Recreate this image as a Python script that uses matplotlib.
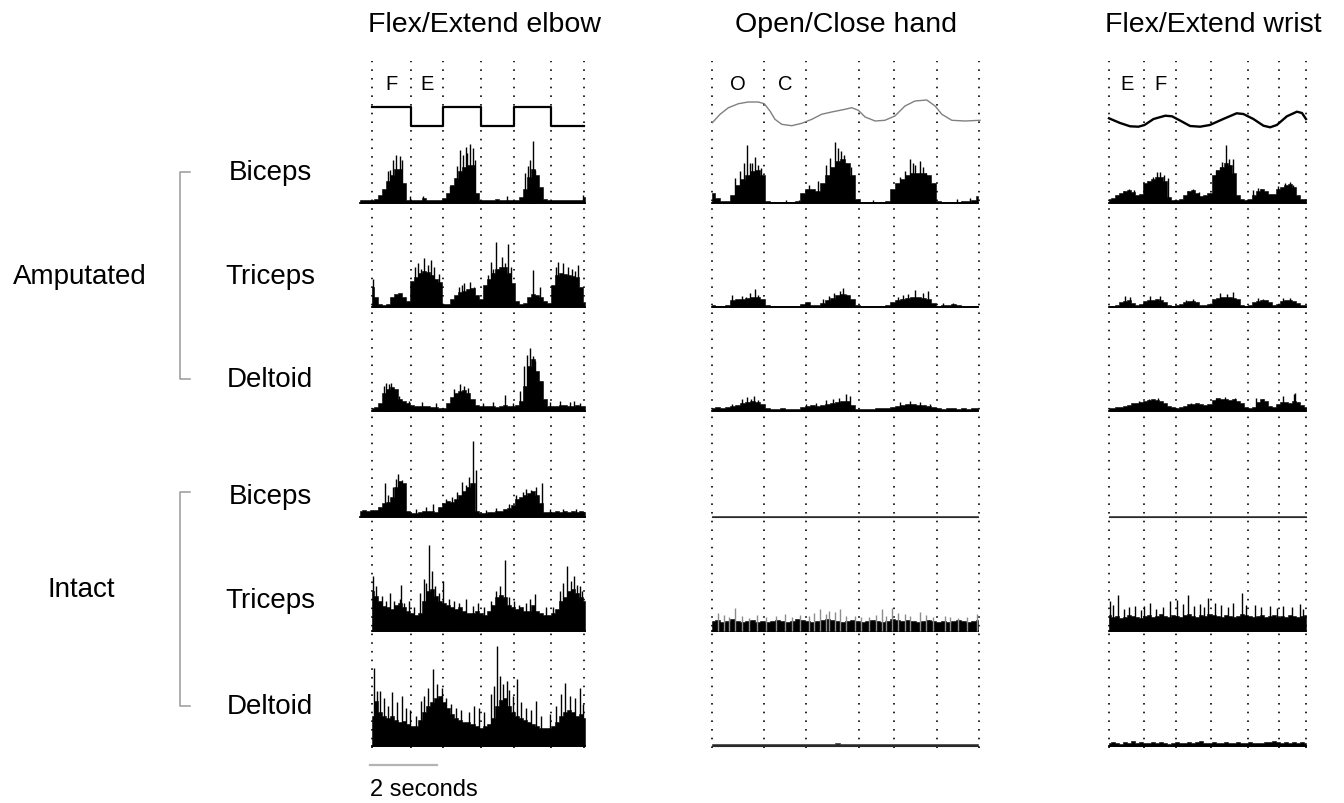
import matplotlib
matplotlib.use("Agg")
import matplotlib.pyplot as plt
import matplotlib.transforms as mtransforms
from matplotlib.lines import Line2D
import numpy as np

plt.rcParams['font.family'] = ['Liberation Sans', 'DejaVu Sans']
plt.rcParams['lines.scale_dashes'] = False

W, H = 1344, 804
PX_PER_S = 33.5          # horizontal scale: 2 s = 67 px

# ---------------- data ----------------
columns = ["Flex/Extend elbow", "Open/Close hand", "Flex/Extend wrist"]
groups = ["Amputated", "Intact"]
muscles = ["Biceps", "Triceps", "Deltoid"]

# movement phase boundaries (s) -> dotted lines
elbow_events = [0, 1.16, 2.12, 3.25, 4.24, 5.34, 6.33]
hand_events = [0, 1.55, 2.80, 4.39, 5.43, 6.72, 7.97]
wrist_events = [0, 1.05, 2.00, 3.04, 4.14, 5.07, 5.87]
phase_labels = [("F", "E"), ("O", "C"), ("E", "F")]

# control signals
elbow_state = [1, 0, 1, 0, 1, 0]
hand_t = [0.01, 0.24, 0.49, 0.79, 1.08, 1.38, 1.56, 1.73, 1.88, 2.08, 2.38, 2.68,
          2.98, 3.27, 3.57, 3.97, 4.17, 4.37, 4.57, 4.87, 5.16, 5.46, 5.76, 6.06,
          6.41, 6.66, 6.86, 7.16, 7.55, 8.0]
hand_aperture = [6.3, 14.7, 21.3, 25.3, 27, 27, 25.3, 18, 9.7, 4.7, 3.3, 5.7,
                 9.7, 14.7, 17, 19.7, 21.3, 18.7, 12, 8, 8.7, 13, 23, 28,
                 29, 23, 14.7, 8.7, 8, 8.7]
wrist_t = [0, 0.33, 0.63, 0.88, 1.06, 1.33, 1.68, 1.88, 2.13, 2.42, 2.72, 3.01,
           3.41, 3.81, 4.01, 4.31, 4.61, 4.81, 5.01, 5.31, 5.61, 5.76, 5.88]
wrist_angle = [10.7, 6, 2.7, 2.3, 4, 10, 13.3, 12.7, 8.3, 3, 2.3, 4,
               10, 15.7, 15, 10, 3.3, 1.7, 4, 12.7, 17.3, 16, 10]

# EMG envelopes (amplitude, arbitrary units), one value per bin
bin_s = [0.12, 0.15, 0.12]

amp_biceps_elbow = [3, 3, 3, 3, 4, 8, 14, 22, 28, 34, 34, 20, 3, 3, 3, 3, 5, 3, 3, 3,
                    3, 5, 10, 18, 25, 32, 36, 38, 38, 10, 3, 3, 3, 3, 4, 3, 3, 3, 3, 3,
                    6, 14, 26, 34, 28, 16, 4, 3, 3, 3, 3, 3, 3, 3, 3, 3, 6]
amp_triceps_elbow = [20, 10, 3, 2, 3, 10, 13, 14, 10, 6, 26, 30, 34, 36, 35, 32, 28, 25,
                     3, 3, 8, 12, 15, 16, 18, 19, 12, 8, 22, 28, 34, 38, 40, 40, 34, 24,
                     6, 3, 4, 10, 13, 12, 10, 6, 4, 22, 32, 34, 33, 32, 31, 30, 20, 5]
amp_deltoid_elbow = [3, 4, 8, 18, 22, 24, 22, 12, 10, 8, 6, 5, 5, 5, 5, 4, 4, 3, 3, 8,
                     14, 18, 20, 21, 18, 12, 6, 5, 5, 5, 5, 4, 5, 6, 5, 5, 6, 10, 25, 45,
                     52, 40, 30, 12, 5, 5, 5, 6, 6, 5, 5, 6, 5, 5]
int_biceps_elbow = [6, 7, 6, 7, 7, 10, 14, 15, 20, 30, 36, 34, 6, 4, 4, 5, 6, 6, 6, 5,
                    10, 14, 16, 15, 18, 22, 26, 30, 34, 6, 4, 4, 5, 5, 6, 6, 8, 9, 12, 18,
                    20, 22, 24, 26, 22, 14, 5, 5, 5, 6, 5, 6, 5, 6, 5, 6, 5]
int_triceps_elbow = [40, 35, 30, 25, 24, 22, 26, 28, 24, 20, 18, 16, 18, 30, 40, 42, 35, 30,
                     28, 26, 24, 22, 24, 20, 18, 18, 20, 18, 16, 20, 26, 34, 36, 34, 26, 24,
                     22, 24, 20, 20, 26, 20, 18, 16, 16, 18, 22, 30, 34, 40, 42, 38, 34, 30]
int_deltoid_elbow = [30, 45, 34, 30, 28, 30, 26, 24, 25, 22, 20, 20, 26, 34, 40, 44, 48, 50,
                     44, 38, 32, 28, 26, 24, 24, 22, 20, 18, 20, 22, 28, 40, 46, 48, 40, 34,
                     30, 28, 26, 24, 22, 20, 18, 18, 18, 20, 24, 30, 34, 36, 34, 30, 32, 28]

amp_biceps_hand = [10, 5, 2, 2, 8, 18, 24, 28, 32, 33, 28, 2, 1, 1, 1, 1, 1, 2, 10, 14,
                   14, 12, 20, 28, 36, 42, 44, 40, 28, 4, 1, 1, 1, 1, 1, 2, 14, 20, 24, 28,
                   30, 30, 30, 28, 20, 2, 1, 1, 1, 1, 2, 2, 3, 7]
amp_triceps_hand = [2, 1, 1, 2, 7, 8, 8, 9, 10, 10, 8, 2, 1, 1, 1, 1, 1, 1, 3, 5,
                    2, 2, 4, 7, 9, 12, 13, 12, 8, 2, 1, 1, 1, 1, 1, 2, 5, 7, 8, 9,
                    10, 10, 9, 8, 4, 1, 2, 2, 3, 2, 1, 1, 1, 1]
amp_deltoid_hand = [3, 4, 3, 4, 5, 6, 8, 9, 10, 9, 7, 3, 2, 2, 3, 2, 2, 2, 4, 5,
                    6, 5, 6, 7, 8, 9, 10, 10, 6, 2, 2, 2, 2, 3, 3, 3, 4, 5, 6, 7,
                    7, 6, 6, 5, 4, 3, 2, 3, 3, 2, 3, 2, 3, 3]
int_biceps_hand = [1, 1, 1, 1.5, 1, 1, 1, 1, 1, 1.5, 1, 1, 1, 1, 1, 1, 1.5, 1, 1, 1,
                   1, 1, 1, 1.5, 1, 1, 1, 1, 1, 1, 1, 1.5, 1, 1, 1, 1, 1, 1, 1, 1.5,
                   1, 1, 1, 1, 1, 1, 1, 1.5, 1, 1, 1, 1, 1, 1]
int_triceps_hand = [10, 11, 9, 10, 12, 10, 9, 10, 11, 9, 10, 9, 10, 11, 10, 9, 10, 12, 11, 10,
                    9, 10, 11, 12, 11, 10, 9, 10, 11, 10, 9, 10, 11, 10, 9, 10, 12, 11, 10, 11,
                    10, 9, 10, 11, 10, 9, 10, 9, 10, 11, 10, 9, 10, 11]
int_deltoid_hand = [1.5, 2, 1.5, 1.5, 2, 1.5, 1.5, 1.5, 2, 1.5, 1.5, 1.5, 2, 1.5, 1.5, 1.5,
                    1.5, 2, 1.5, 1.5, 1.5, 2, 1.5, 1.5, 1.5, 2.5, 2, 1.5, 1.5, 1.5, 1.5, 1.5,
                    2, 1.5, 1.5, 1.5, 2, 1.5, 1.5, 1.5, 2, 1.5, 1.5, 1.5, 1.5, 2, 1.5, 1.5,
                    1.5, 1.5, 2, 1.5, 1.5, 2]

amp_biceps_wrist = [4, 5, 8, 10, 12, 13, 11, 8, 9, 20, 22, 24, 26, 26, 22, 6, 3, 3, 4, 8,
                    12, 13, 10, 7, 8, 10, 28, 33, 36, 40, 38, 30, 8, 4, 3, 4, 8, 12, 14, 12,
                    9, 9, 14, 16, 18, 19, 16, 8, 4, 4]
amp_triceps_wrist = [1, 1, 2, 5, 6, 7, 4, 2, 3, 6, 7, 7, 8, 7, 5, 2, 1, 2, 3, 5,
                     6, 6, 5, 2, 2, 3, 8, 9, 10, 10, 10, 9, 8, 2, 1, 2, 5, 6, 7, 7,
                     5, 2, 3, 6, 7, 7, 6, 4, 2, 2]
amp_deltoid_wrist = [3, 3, 4, 4, 5, 6, 8, 8, 9, 10, 11, 12, 11, 10, 8, 5, 4, 3, 4, 5,
                     7, 7, 8, 7, 6, 7, 11, 13, 12, 12, 11, 12, 10, 8, 4, 3, 4, 9, 12, 10,
                     5, 4, 7, 9, 9, 8, 10, 9, 6, 4]
int_biceps_wrist = [1, 1, 1.5, 1, 1, 1, 1, 1.5, 1, 1, 1, 1, 1, 1.5, 1, 1, 1, 1, 1, 1,
                    1.5, 1, 1, 1, 1, 1, 1, 1.5, 1, 1, 1, 1, 1.5, 1, 1, 1, 1, 1, 1, 1.5,
                    1, 1, 1, 1, 1.5, 1, 1, 1, 1, 1]
int_triceps_wrist = [16, 14, 15, 13, 14, 16, 15, 14, 13, 15, 16, 14, 15, 17, 15, 14, 16, 15,
                     14, 16, 17, 15, 14, 16, 15, 17, 16, 15, 14, 16, 15, 14, 15, 17, 16, 15,
                     14, 15, 16, 14, 15, 16, 14, 15, 14, 16, 15, 14, 15, 16]
int_deltoid_wrist = [3, 4, 3, 2, 4, 3, 5, 3, 4, 3, 3, 4, 3, 4, 3, 2, 3, 4, 3, 3,
                     4, 3, 4, 5, 3, 3, 4, 3, 3, 4, 3, 3, 4, 3, 3, 4, 3, 3, 3, 4,
                     4, 5, 4, 3, 4, 3, 4, 3, 4, 3]

# individual spikes above the envelope: (time s, amplitude)
spikes_elbow = [
    [(0.54, 33), (0.72, 48), (0.84, 47), (2.63, 53), (2.81, 56), (2.93, 59), (3.01, 55),
     (4.66, 37), (4.81, 62), (0.48, 32), (0.63, 43), (0.90, 43), (2.33, 17), (2.54, 37),
     (2.72, 48), (2.84, 50), (3.07, 43), (4.57, 30), (4.72, 43), (4.87, 33), (5.01, 13),
     (1.13, 7), (1.52, 7), (4.03, 7), (6.30, 8)],
    [(0.02, 28), (1.28, 40), (1.55, 49), (1.76, 47), (2.75, 24), (2.93, 25), (3.46, 32),
     (3.70, 65), (4.06, 63), (4.81, 37), (5.55, 45), (5.70, 44), (6.15, 42), (1.37, 44),
     (1.46, 38), (1.67, 42), (1.85, 40), (2.00, 33), (2.60, 20), (2.69, 22), (3.04, 20),
     (3.55, 45), (3.61, 38), (3.88, 50), (3.97, 44), (4.15, 40), (5.00, 20), (5.49, 40),
     (5.85, 40), (5.97, 38), (6.06, 36)],
    [(0.42, 28), (0.57, 28), (2.63, 27), (3.97, 16), (4.63, 56), (4.72, 63), (4.87, 50),
     (5.61, 10), (6.03, 10), (0.36, 25), (0.51, 27), (0.66, 22), (0.81, 15), (1.10, 10),
     (1.50, 9), (1.90, 8), (2.45, 22), (2.75, 25), (2.87, 23), (3.30, 8), (3.60, 9),
     (4.20, 8), (4.42, 20), (4.55, 45), (4.80, 55), (5.00, 30), (5.30, 9), (5.90, 9),
     (6.20, 8)],
    [(0.39, 34), (0.63, 30), (0.78, 43), (1.82, 13), (2.81, 32), (3.01, 76), (3.10, 47),
     (4.90, 30), (5.07, 34), (0.20, 10), (0.48, 22), (0.72, 38), (0.90, 37), (1.30, 8),
     (1.60, 10), (2.00, 9), (2.20, 18), (2.40, 20), (2.55, 25), (2.68, 35), (2.90, 40),
     (3.40, 7), (3.70, 9), (4.10, 13), (4.30, 22), (4.50, 25), (4.60, 28), (4.75, 27),
     (5.30, 8), (5.70, 8), (6.10, 8)],
    [(0.02, 55), (0.54, 38), (0.84, 32), (0.87, 46), (1.61, 48), (1.70, 86), (1.79, 60),
     (2.12, 50), (3.82, 45), (3.97, 71), (4.87, 37), (5.82, 65), (6.03, 55), (6.21, 45),
     (0.12, 45), (0.30, 35), (0.42, 30), (0.66, 30), (0.96, 28), (1.10, 30), (1.25, 24),
     (1.42, 38), (1.55, 52), (1.88, 45), (2.00, 38), (2.30, 32), (2.45, 30), (2.60, 28),
     (2.80, 32), (3.00, 25), (3.15, 28), (3.35, 24), (3.55, 30), (3.70, 40), (4.10, 34),
     (4.25, 30), (4.40, 26), (4.60, 28), (4.72, 32), (5.20, 24), (5.40, 24), (5.60, 40),
     (5.70, 48), (5.95, 50), (6.12, 46), (6.28, 40)],
    [(0.06, 78), (0.24, 55), (0.60, 54), (0.90, 50), (1.67, 58), (1.82, 77), (2.09, 58),
     (3.73, 100), (3.82, 70), (4.03, 65), (4.33, 67), (4.90, 45), (5.76, 63), (6.21, 58),
     (0.15, 55), (0.36, 48), (0.48, 40), (0.75, 44), (1.00, 38), (1.12, 36), (1.30, 30),
     (1.45, 45), (1.55, 50), (1.95, 62), (2.20, 48), (2.35, 42), (2.50, 38), (2.65, 36),
     (2.90, 34), (3.05, 40), (3.20, 38), (3.35, 34), (3.55, 52), (3.65, 60), (3.90, 62),
     (4.10, 56), (4.20, 50), (4.45, 44), (4.60, 38), (4.75, 36), (5.05, 30), (5.30, 32),
     (5.50, 40), (5.65, 52), (5.90, 50), (6.05, 48), (6.30, 42)],
]
spikes_hand = [
    [(1.04, 58), (1.13, 40), (1.28, 46), (3.67, 61), (3.76, 55), (4.00, 40), (5.91, 44),
     (6.06, 38), (6.21, 42), (0.70, 25), (0.85, 32), (0.95, 40), (1.20, 40), (1.38, 38),
     (1.45, 35), (2.90, 18), (3.15, 22), (3.40, 38), (3.52, 45), (3.85, 52), (3.95, 48),
     (4.15, 36), (5.60, 26), (5.75, 32), (6.00, 40), (6.30, 36), (6.40, 30), (2.20, 3),
     (2.60, 3), (4.80, 3), (7.30, 4), (7.70, 5)],
    [(0.60, 12), (1.13, 14), (1.28, 18), (3.82, 16), (3.91, 19), (6.06, 17), (6.45, 16),
     (0.90, 11), (1.00, 10), (1.38, 12), (3.30, 8), (3.50, 11), (3.65, 14), (4.00, 13),
     (5.55, 10), (5.70, 12), (5.85, 13), (6.30, 14), (6.90, 4), (7.20, 4)],
    [(1.04, 14), (1.25, 15), (3.61, 12), (4.00, 17), (4.12, 15), (0.60, 7), (0.90, 12),
     (1.15, 12), (1.38, 11), (2.80, 7), (3.10, 8), (3.40, 11), (3.80, 13), (5.60, 9),
     (5.90, 10), (6.20, 9), (6.50, 7)],
    [],
    [(0.18, 18), (0.69, 23), (1.34, 16), (2.18, 17), (2.63, 16), (3.22, 22), (3.67, 19),
     (3.82, 22), (4.27, 15), (5.07, 22), (5.37, 23), (5.76, 17), (6.21, 19), (7.10, 14),
     (7.91, 17), (0.35, 16), (0.50, 14), (0.90, 15), (1.10, 13), (1.60, 14), (1.90, 15),
     (2.40, 14), (2.90, 15), (3.05, 18), (3.40, 17), (3.50, 20), (4.00, 15), (4.45, 14),
     (4.70, 14), (4.90, 16), (5.20, 15), (5.55, 18), (5.90, 15), (6.40, 16), (6.60, 14),
     (6.95, 15), (7.35, 13), (7.60, 14)],
    [],
]
spikes_wrist = [
    [(1.43, 31), (1.52, 31), (3.37, 41), (3.49, 58), (3.70, 44), (0.30, 8), (0.45, 12),
     (0.60, 14), (0.75, 13), (1.15, 22), (1.30, 26), (1.65, 28), (1.75, 25), (2.35, 12),
     (2.50, 14), (2.70, 11), (3.20, 33), (3.30, 36), (3.58, 44), (3.62, 38), (4.30, 13),
     (4.45, 15), (4.55, 14), (5.05, 17), (5.25, 20), (5.40, 21), (5.50, 18)],
    [(0.48, 11), (0.63, 10), (1.22, 11), (1.52, 11), (3.31, 14), (3.52, 13), (3.70, 15),
     (2.30, 7), (2.50, 8), (4.45, 9), (4.60, 8), (5.20, 9), (5.40, 9)],
    [(5.19, 15), (5.52, 17), (5.55, 18), (0.90, 10), (1.20, 12), (1.45, 13), (2.45, 8),
     (3.20, 13), (3.45, 14), (3.75, 13), (4.40, 13), (4.60, 12)],
    [],
    [(0.03, 30), (0.27, 36), (0.78, 25), (1.22, 28), (1.82, 30), (2.03, 31), (2.36, 36),
     (2.72, 27), (2.96, 33), (3.16, 28), (3.97, 38), (4.36, 26), (4.81, 25), (5.70, 27),
     (0.12, 26), (0.45, 22), (0.60, 24), (0.95, 21), (1.05, 25), (1.40, 22), (1.60, 24),
     (2.20, 27), (2.55, 25), (2.85, 24), (3.35, 26), (3.55, 24), (3.70, 28), (4.10, 26),
     (4.55, 24), (5.00, 23), (5.20, 25), (5.45, 24), (5.80, 22)],
    [],
]

emg = [
    [amp_biceps_elbow, amp_triceps_elbow, amp_deltoid_elbow,
     int_biceps_elbow, int_triceps_elbow, int_deltoid_elbow],
    [amp_biceps_hand, amp_triceps_hand, amp_deltoid_hand,
     int_biceps_hand, int_triceps_hand, int_deltoid_hand],
    [amp_biceps_wrist, amp_triceps_wrist, amp_deltoid_wrist,
     int_biceps_wrist, int_triceps_wrist, int_deltoid_wrist],
]
spikes = [spikes_elbow, spikes_hand, spikes_wrist]
events = [elbow_events, hand_events, wrist_events]

# ---------------- layout (pixels) ----------------
col_origin = [372, 712, 1109]
col_left = [352, 700, 1097]
col_right = [596, 992, 1316]
title_x = [485, 846, 1213]
row_base = [203.5, 307.5, 411.5, 518, 631.5, 746.5]
row_label_y = [173, 277, 380, 497, 601, 707]
trace_start = [[-0.36, 0, 0, -0.36, 0, 0], [0] * 6, [0] * 6]

fig = plt.figure(figsize=(W / 100, H / 100), dpi=100)


def px_axes(x0, y0, x1, y1, c):
    ax = fig.add_axes([x0 / W, 1 - y1 / H, (x1 - x0) / W, (y1 - y0) / H])
    ax.set_axis_off()
    o = col_origin[c]
    ax.set_xlim((x0 - o) / PX_PER_S, (x1 - o) / PX_PER_S)
    return ax


def fig_text(x, y, s, **kw):
    fig.text(x / W, 1 - y / H, s, **kw)


for c in range(3):
    # dotted phase markers
    ax = px_axes(col_left[c], 62, col_right[c], 749, c)
    ax.set_ylim(0, 1)
    for t in events[c]:
        ax.axvline(t, color="black", lw=1.2, linestyle=(0, (1.15, 5.1)))

    # control signal
    if c == 0:
        ax = px_axes(col_left[c], 108, col_right[c], 127, c)
        ax.set_ylim(0, 1)
        ax.step(events[0], elbow_state + [elbow_state[-1]], where="post",
                color="black", lw=1.6, clip_on=False)
    elif c == 1:
        ax = px_axes(col_left[c], 95, col_right[c], 130, c)
        ax.set_ylim(0, 35)
        ax.plot(hand_t, hand_aperture, color="#808080", lw=1.0, clip_on=False)
    else:
        ax = px_axes(col_left[c], 95, col_right[c], 130, c)
        ax.set_ylim(0, 35)
        ax.plot(wrist_t, wrist_angle, color="black", lw=1.7, clip_on=False)

    tr = mtransforms.blended_transform_factory(ax.transData, fig.transFigure)
    ev = events[c]
    for k, lab in enumerate(phase_labels[c]):
        ax.text((ev[k] + ev[k + 1]) / 2, 1 - 84 / H, lab, transform=tr,
                ha="center", va="center", fontsize=14.5)

    # EMG traces
    for r in range(6):
        yb = row_base[r]
        ax = px_axes(col_left[c], yb - 100, col_right[c], yb + 4, c)
        ax.set_ylim(-4, 100)
        h = np.array(emg[c][r], dtype=float)
        t = trace_start[c][r] + bin_s[c] * np.arange(len(h))
        flat = h.max() < 3
        ink = "#2a2a2a" if flat else "black"
        ax.fill_between(t, 0, h, step="mid", color=ink, lw=0.4, edgecolor=ink)
        ax.plot([t[0], t[-1]], [0, 0], color=ink, lw=0.8 if flat else 1.3)
        sp = spikes[c][r]
        if sp:
            st, sh = zip(*sp)
            col = "#8c8c8c" if (c == 1 and r == 4) else "black"
            ax.vlines(st, 0, sh, color=col, lw=1.0)

    fig_text(title_x[c], 25, columns[c], ha="center", va="center", fontsize=20.5)

# scale bar
ax = px_axes(col_left[0], 760, col_right[0], 772, 0)
ax.set_ylim(0, 1)
ax.plot([-0.06, -0.06 + 2.0], [0.5, 0.5], color="#b4b4b4", lw=1.6)
fig_text(370, 790, "2 seconds", ha="left", va="center", fontsize=17)

# row and group labels
for r in range(6):
    fig_text(270, row_label_y[r], muscles[r % 3], ha="center", va="center", fontsize=20)
fig_text(80, 277, groups[0], ha="center", va="center", fontsize=20)
fig_text(81, 590, groups[1], ha="center", va="center", fontsize=20)

# brackets
for y0, y1 in [(173, 380), (493, 707)]:
    xs = [190 / W, 180 / W, 180 / W, 190 / W]
    ys = [1 - y0 / H, 1 - y0 / H, 1 - y1 / H, 1 - y1 / H]
    fig.add_artist(Line2D(xs, ys, color="#9a9a9a", lw=1.1))

fig.savefig("out.png", dpi=100)
